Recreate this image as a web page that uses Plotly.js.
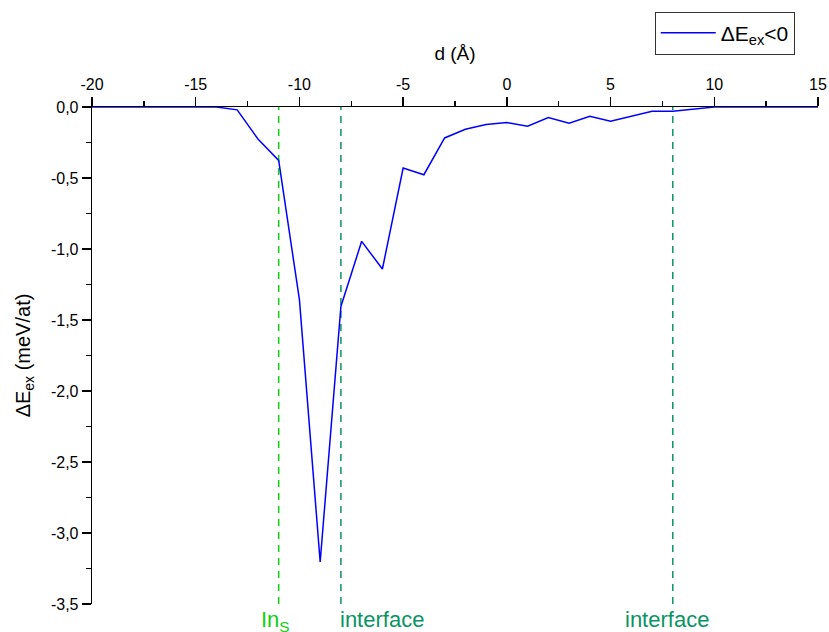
<!DOCTYPE html>
<html>
<head>
<meta charset="utf-8">
<script src="https://cdn.plot.ly/plotly-3.0.1.min.js"></script>
<style>html,body{margin:0;padding:0;background:#fff;}#chart{width:829px;height:632px;}</style>
</head>
<body>
<div id="chart"></div>
<script>
// Data
const dValues = [-20,-19,-18,-17,-16,-15,-14,-13,-12,-11,-10,-9,-8,-7,-6,-5,-4,-3,-2,-1,0,1,2,3,4,5,6,7,8,9,10,11,12,13,14,15];
const deltaEex = [0,0,0,0,0,0,0,-0.02,-0.225,-0.376,-1.357,-3.204,-1.405,-0.946,-1.141,-0.43,-0.477,-0.218,-0.157,-0.123,-0.11,-0.136,-0.075,-0.115,-0.066,-0.10,-0.066,-0.03,-0.03,-0.015,0,0,0,0,0,0];
const seriesName = 'ΔE<sub>ex</sub>&lt;0';

const markerPositions = [-11, -8, 8];
const markerLabels = ['In<sub>S</sub>', 'interface', 'interface'];
const markerColors = ['#10d010', '#0a9464', '#0a9464'];
const markerAnchors = ['center', 'left', 'center'];
const markerShifts = [-3, -3, -6];

const xTickVals = [-20,-15,-10,-5,0,5,10,15];
const xTickText = ['-20','-15','-10','-5','0','5','10','15'];
const yTickVals = [0,-0.5,-1,-1.5,-2,-2.5,-3,-3.5];
const yTickText = ['0,0','-0,5','-1,0','-1,5','-2,0','-2,5','-3,0','-3,5'];

const font = 'Arial, "Liberation Sans", sans-serif';

const shapes = markerPositions.map((x, i) => ({
  type: 'line', xref: 'x', yref: 'paper', x0: x, x1: x, y0: 0, y1: 1,
  line: {color: markerColors[i], width: 1.5, dash: '7px,6px'}, layer: 'below'
}));
const annotations = markerPositions.map((x, i) => ({
  x: x, xref: 'x', y: 0, yref: 'paper', yanchor: 'top', xanchor: markerAnchors[i],
  yshift: -1, xshift: markerShifts[i], text: markerLabels[i], showarrow: false,
  font: {family: font, size: 22, color: markerColors[i]}
}));

const trace = {
  x: dValues, y: deltaEex, type: 'scatter', mode: 'lines', name: seriesName,
  line: {color: '#0000ff', width: 1.5}, showlegend: true
};

const layout = {
  width: 829, height: 632,
  margin: {l: 92, r: 11, t: 107, b: 28},
  paper_bgcolor: '#fff', plot_bgcolor: '#fff',
  font: {family: font, size: 16, color: '#000'},
  showlegend: true,
  legend: {x: 0.968, xanchor: 'right', y: 1.192, yanchor: 'top',
    bordercolor: '#333', borderwidth: 1, bgcolor: '#fff', itemwidth: 55,
    font: {family: font, size: 21, color: '#000'}},
  xaxis: {
    side: 'top', range: [-20, 15], tickmode: 'array', tickvals: xTickVals, ticktext: xTickText,
    showline: true, linecolor: '#000', linewidth: 1.3, mirror: false,
    ticks: 'outside', ticklen: 9, tickwidth: 1.3, tickcolor: '#000',
    minor: {tick0: -20, dtick: 2.5, ticks: 'outside', ticklen: 5, tickwidth: 1.3, tickcolor: '#000'},
    showgrid: false, zeroline: false, automargin: false,
    tickfont: {family: font, size: 16},
    title: {text: 'd (Å)', font: {family: font, size: 19}, standoff: 10}
  },
  yaxis: {
    range: [-3.5, 0], tickmode: 'array', tickvals: yTickVals, ticktext: yTickText,
    showline: true, linecolor: '#000', linewidth: 1.3, mirror: false,
    ticks: 'outside', ticklen: 9, tickwidth: 1.3, tickcolor: '#000',
    minor: {tick0: 0, dtick: 0.25, ticks: 'outside', ticklen: 5, tickwidth: 1.3, tickcolor: '#000'},
    showgrid: false, zeroline: false, automargin: false,
    tickfont: {family: font, size: 16},
    title: {text: 'ΔE<sub>ex</sub> (meV/at)', font: {family: font, size: 20}, standoff: 15}
  },
  shapes: shapes,
  annotations: annotations
};

Plotly.newPlot('chart', [trace], layout, {displayModeBar: false, staticPlot: true});
</script>
</body>
</html>
